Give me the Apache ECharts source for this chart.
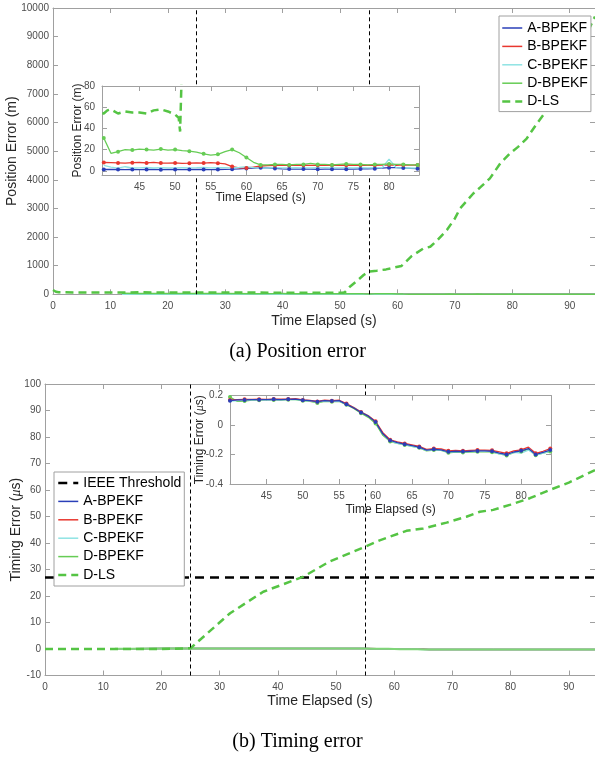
<!DOCTYPE html>
<html>
<head>
<meta charset="utf-8">
<script src="https://cdn.jsdelivr.net/npm/echarts@6/dist/echarts.min.js"></script>
<style>
  html, body { margin: 0; padding: 0; background: #fff; }
  #chart { width: 595px; height: 757px; }
</style>
</head>
<body>
<div id="chart"></div>
<script>
// ---- tick labels
const mainXTicks = [0, 10, 20, 30, 40, 50, 60, 70, 80, 90]
const posYTicks = [0, 1000, 2000, 3000, 4000, 5000, 6000, 7000, 8000, 9000, 10000]
const timeYTicks = [-10, 0, 10, 20, 30, 40, 50, 60, 70, 80, 90, 100]
const insetXTicks = [45, 50, 55, 60, 65, 70, 75, 80]
const posInsetYTicks = [0, 20, 40, 60, 80]
const timeInsetYTicks = [-0.4, -0.2, 0, 0.2]
const eventTimes = [25, 55]
const ieeeThreshold = 27

// ---- (a) position error
const dlsPosT = [0, 0.5, 1, 5, 10, 15, 20, 25, 30, 35, 40, 40.5, 41, 42, 43, 44, 45, 46, 47, 48, 49, 50, 50.5, 50.7, 50.9,
  51.7, 53, 54.1, 55, 56.4, 58, 60.7, 62.5, 64.5, 65.7, 67, 68.6, 70, 70.9, 72, 73.2, 74.5, 76.1, 77.9, 79.6,
  81, 82.5, 84.3, 86, 88, 90, 92, 94.4]
const dlsPos = [150, 90, 70, 65, 62, 68, 66, 63, 64, 60, 54, 57, 58, 54, 56, 55, 55, 54, 57, 58, 56, 53, 50, 37, 85,
  265, 480, 673, 790, 825, 870, 990, 1340, 1600, 1660, 1900, 2245, 2650, 3000, 3250, 3520, 3750, 4050, 4570, 4920,
  5150, 5440, 5970, 6430, 7150, 7900, 8700, 9700]

const posEarlyT = [12, 15, 20, 25, 30, 35, 39]
const posA_early = [2.5, 1.8, 1.5, 1.4, 1.3, 1.2, 1.2]
const posB_early = [9, 8.5, 8, 8, 7.8, 7.8, 7.7]
const posC_early = [6, 4, 3.5, 3.2, 3, 3, 3.5]
const posD_early = [40, 30, 26, 25, 24, 23, 28]

const insetT = [40, 41, 42, 43, 44, 45, 46, 47, 48, 49, 50, 51, 52, 53, 54, 55, 56, 57, 58, 59,
  60, 61, 62, 63, 64, 65, 66, 67, 68, 69, 70, 71, 72, 73, 74, 75, 76, 77, 78, 79, 80, 81, 82, 83, 84]
const posA = [1.2, 1.3, 1.2, 1.0, 1.3, 1.1, 1.2, 1.3, 1.0, 1.2, 1.3, 1.1, 1.2, 1.3, 1.2, 1.1, 1.2, 1.3, 1.5, 1.8,
  2.2, 2.5, 2.9, 2.8, 2.2, 1.8, 1.6, 1.5, 1.6, 1.5, 1.4, 1.5, 1.5, 1.6, 1.5, 1.6, 1.7, 1.8, 2.0, 2.4, 2.9, 3.0, 2.6, 2.2, 2.0]
const posB = [7.8, 7.6, 7.4, 7.2, 7.6, 7.8, 7.4, 7.9, 7.3, 7.2, 7.4, 7.0, 7.2, 7.5, 7.3, 7.6, 7.2, 6.5, 4.0, 2.8,
  2.5, 3.5, 4.5, 4.8, 5.0, 5.1, 5.0, 5.2, 5.3, 5.0, 5.2, 5.4, 5.1, 5.3, 5.2, 5.3, 5.2, 5.4, 5.1, 5.3, 5.6, 5.2, 5.5, 5.3, 5.4]
const posC = [5.0, 3.5, 2.5, 3.8, 2.6, 2.8, 3.2, 2.6, 3.0, 2.8, 2.7, 3.0, 2.8, 2.9, 3.1, 2.8, 3.0, 2.9, 2.7, 3.2,
  4.0, 3.0, 2.6, 2.8, 2.9, 2.7, 2.8, 3.0, 2.8, 2.6, 2.9, 3.0, 2.8, 2.7, 2.9, 2.8, 3.0, 2.8, 2.9, 2.7, 11.0, 3.0, 2.6, 2.8, 2.5]
const posD = [31, 16.5, 18, 20, 19.5, 20.5, 20, 19.5, 20.5, 19.5, 20, 19, 18.5, 17.5, 16, 14.8, 15.5, 18, 20, 17,
  12.5, 8, 5.5, 5.5, 6, 6, 5.5, 6, 6, 7, 6, 6, 5.5, 6, 6.5, 6, 6, 5.5, 6, 6, 6.5, 6, 6, 5.5, 5.5]

const posLateT = [86, 88, 90, 92, 94.4]
const posA_late = [1.8, 1.6, 1.5, 1.6, 1.5]
const posB_late = [5.3, 5.4, 5.2, 5.3, 5.2]
const posC_late = [2.7, 2.8, 2.6, 2.8, 2.7]
const posD_late = [5.8, 6, 5.7, 6, 5.8]

// ---- (b) timing error
const dlsTimeT = [0, 10, 20, 25, 31.8, 37.5, 44.4, 48.9, 54.8, 57.5, 62.1, 65, 69, 72.4, 74.7, 77, 80, 83.3, 86.7, 90, 94.5]
const dlsTime = [0, 0, 0, 0.3, 13.5, 21.6, 27.3, 33, 38.4, 41, 44.6, 45.5, 47.7, 49.9, 51.8, 52.5, 54.5, 56.9, 60, 62.8, 67.5]

const timeEarlyT = [12, 15, 20, 25, 30, 35, 39]
const timeA_early = [0.10, 0.13, 0.15, 0.16, 0.165, 0.168, 0.166]
const timeB_early = [0.10, 0.135, 0.155, 0.165, 0.17, 0.172, 0.170]
const timeC_early = [0.09, 0.125, 0.148, 0.158, 0.162, 0.165, 0.162]
const timeD_early = [0.11, 0.14, 0.16, 0.17, 0.175, 0.18, 0.185]

const timeA = [0.165, 0.170, 0.170, 0.172, 0.172, 0.172, 0.174, 0.172, 0.174, 0.176, 0.168, 0.165, 0.158, 0.165, 0.162,
  0.165, 0.140, 0.115, 0.085, 0.060, 0.020, -0.060, -0.105, -0.120, -0.130, -0.140, -0.150, -0.170, -0.165, -0.168,
  -0.182, -0.178, -0.180, -0.178, -0.176, -0.175, -0.178, -0.190, -0.200, -0.183, -0.175, -0.160, -0.200, -0.185, -0.170]
const timeB = [0.170, 0.172, 0.174, 0.174, 0.175, 0.174, 0.176, 0.175, 0.176, 0.178, 0.170, 0.166, 0.160, 0.168, 0.165,
  0.168, 0.145, 0.118, 0.088, 0.062, 0.025, -0.052, -0.100, -0.115, -0.125, -0.135, -0.145, -0.165, -0.160, -0.162,
  -0.175, -0.172, -0.175, -0.172, -0.170, -0.170, -0.172, -0.182, -0.192, -0.176, -0.168, -0.150, -0.192, -0.178, -0.160]
const timeC = [0.160, 0.165, 0.168, 0.170, 0.170, 0.170, 0.172, 0.170, 0.172, 0.174, 0.166, 0.162, 0.156, 0.163, 0.160,
  0.162, 0.142, 0.120, 0.090, 0.064, 0.022, -0.058, -0.108, -0.125, -0.133, -0.145, -0.155, -0.172, -0.168, -0.170,
  -0.185, -0.180, -0.182, -0.180, -0.178, -0.177, -0.180, -0.195, -0.205, -0.186, -0.190, -0.170, -0.205, -0.190, -0.178]
const timeD = [0.190, 0.160, 0.162, 0.168, 0.168, 0.170, 0.170, 0.168, 0.172, 0.172, 0.164, 0.160, 0.150, 0.160, 0.158,
  0.160, 0.138, 0.112, 0.080, 0.052, 0.010, -0.070, -0.112, -0.125, -0.135, -0.145, -0.155, -0.175, -0.170, -0.172,
  -0.188, -0.184, -0.186, -0.184, -0.182, -0.180, -0.184, -0.196, -0.206, -0.188, -0.180, -0.165, -0.205, -0.190, -0.180]

const timeLateT = [86, 88, 90, 92, 94.5]
const timeA_late = [-0.18, -0.19, -0.2, -0.19, -0.18]
const timeB_late = [-0.172, -0.182, -0.192, -0.182, -0.172]
const timeC_late = [-0.185, -0.195, -0.205, -0.195, -0.185]
const timeD_late = [-0.186, -0.196, -0.206, -0.196, -0.186]

// ---- styles
const font = '"Liberation Sans", Arial, sans-serif'
const axisGray = '#a0a0a0'
const blue = '#2a3fb8', red = '#e8372f', cyan = '#8fe3e3', green = '#66cc55', lsGreen = '#55c444'

function axis(gridIndex, position, min, max, ticks, extra) {
  const mirror = position === 'top' || position === 'right'
  return Object.assign({
    type: 'value', gridIndex, position, min, max,
    axisLine: { show: true, onZero: false, lineStyle: { color: axisGray, width: 1 } },
    axisTick: { show: true, inside: true, length: 5, customValues: ticks, lineStyle: { color: axisGray } },
    axisLabel: { show: !mirror, customValues: ticks, fontSize: 10, color: '#4d4d4d', fontFamily: font,
      margin: position === 'left' && gridIndex % 2 === 0 ? 4 : 7, formatter: v => String(v) },
    splitLine: { show: false }
  }, extra || {})
}

function axisName(text, gap, size) {
  return { name: text, nameLocation: 'middle', nameGap: gap, nameMoveOverlap: false,
    nameTextStyle: { fontSize: size, color: '#262626', fontFamily: font,
      rich: { it: { fontStyle: 'italic', fontFamily: '"Liberation Serif", serif', fontSize: size, color: '#262626' } } } }
}

function zip(t, v) { return t.map((x, i) => [x, v[i]]) }

function line(name, idx, data, color, width, extra) {
  return Object.assign({
    type: 'line', name, xAxisIndex: idx, yAxisIndex: idx, data,
    symbol: 'none', silent: true, animation: false,
    lineStyle: { color, width }, itemStyle: { color }
  }, extra || {})
}

const dots = { symbol: (v, p) => (p.dataIndex % 2 === 0 ? 'circle' : 'none'), symbolSize: 4, showSymbol: true, showAllSymbol: true }
const inset = { z: 12 }
const dash = { type: [8, 5] }
const eventLines = {
  silent: true, symbol: ['none', 'none'], label: { show: false },
  lineStyle: { color: '#000', type: [4, 3], width: 1 },
  data: eventTimes.map(t => ({ xAxis: t }))
}

const legendBase = {
  orient: 'vertical', selectedMode: false, itemWidth: 20, itemHeight: 14, itemGap: 4.4,
  backgroundColor: '#fff', borderColor: '#a0a0a0', borderWidth: 1, z: 20,
  itemStyle: { opacity: 0 },
  lineStyle: { width: 'inherit' },
  textStyle: { fontSize: 14, color: '#000', fontFamily: font }
}

const gridBase = { outerBoundsMode: 'none', containLabel: false }

const chart = echarts.init(document.getElementById('chart'))
chart.setOption({
  animation: false,
  grid: [
    Object.assign({ left: 53, top: 8, width: 542, height: 286.3 }, gridBase),
    Object.assign({ left: 102, top: 86, width: 317, height: 89, show: true, backgroundColor: '#fff', borderWidth: 0, z: 10 }, gridBase),
    Object.assign({ left: 45, top: 384, width: 550, height: 291.5 }, gridBase),
    Object.assign({ left: 230, top: 395.5, width: 321, height: 88.5, show: true, backgroundColor: '#fff', borderWidth: 0, z: 10 }, gridBase)
  ],
  xAxis: [
    axis(0, 'bottom', 0, 94.4, mainXTicks, axisName('Time Elapsed (s)', 20, 14)),
    axis(0, 'top', 0, 94.4, mainXTicks),
    axis(1, 'bottom', 39.75, 84.2, insetXTicks, Object.assign({ z: 11 }, axisName('Time Elapsed (s)', 17, 12))),
    axis(1, 'top', 39.75, 84.2, insetXTicks, { z: 11 }),
    axis(2, 'bottom', 0, 94.5, mainXTicks, axisName('Time Elapsed (s)', 19, 14)),
    axis(2, 'top', 0, 94.5, mainXTicks),
    axis(3, 'bottom', 40, 84.1, insetXTicks, Object.assign({ z: 11 }, axisName('Time Elapsed (s)', 20, 12))),
    axis(3, 'top', 40, 84.1, insetXTicks, { z: 11 })
  ],
  yAxis: [
    axis(0, 'left', 0, 10000, posYTicks, axisName('Position Error (m)', 34, 14)),
    axis(0, 'right', 0, 10000, posYTicks),
    axis(1, 'left', -4, 80, posInsetYTicks, Object.assign({ z: 11 }, axisName('Position Error (m)', 18, 12))),
    axis(1, 'right', -4, 80, posInsetYTicks, { z: 11 }),
    axis(2, 'left', -10, 100, timeYTicks, axisName('Timing Error ({it|μ}s)', 22, 14)),
    axis(2, 'right', -10, 100, timeYTicks),
    axis(3, 'left', -0.4, 0.2, timeInsetYTicks, Object.assign({ z: 11 }, axisName('Timing Error ({it|μ}s)', 24, 12))),
    axis(3, 'right', -0.4, 0.2, timeInsetYTicks, { z: 11 })
  ],
  legend: [
    Object.assign({}, legendBase, { left: 499, top: 16, padding: [5, 3, 3, 2],
      data: ['A-BPEKF', 'B-BPEKF', 'C-BPEKF', 'D-BPEKF', 'D-LS'] }),
    Object.assign({}, legendBase, { left: 54, top: 472, padding: [4, 3, 4, 3],
      data: ['IEEE Threshold', 'A-BPEKF', 'B-BPEKF', 'C-BPEKF', 'D-BPEKF', 'D-LS'] })
  ],
  graphic: [
    { type: 'text', left: 'center', top: 342, style: { text: '(a) Position error', font: '20px "Liberation Serif", serif', fill: '#000' } },
    { type: 'text', left: 'center', top: 732, style: { text: '(b) Timing error', font: '20px "Liberation Serif", serif', fill: '#000' } }
  ],
  series: [
    // (a) main
    line('A-BPEKF', 0, zip(posEarlyT.concat(insetT, posLateT), posA_early.concat(posA, posA_late)), blue, 1.5),
    line('B-BPEKF', 0, zip(posEarlyT.concat(insetT, posLateT), posB_early.concat(posB, posB_late)), red, 1.5),
    line('C-BPEKF', 0, zip(posEarlyT.concat(insetT, posLateT), posC_early.concat(posC, posC_late)), cyan, 1.5),
    line('D-BPEKF', 0, zip(posEarlyT.concat(insetT, posLateT), posD_early.concat(posD, posD_late)), green, 1.5),
    line('D-LS', 0, zip(dlsPosT, dlsPos), lsGreen, 2.5, { lineStyle: Object.assign({ color: lsGreen, width: 2.5 }, dash), markLine: eventLines }),
    // (a) inset
    line('a-inset-A', 2, zip(insetT, posA), blue, 1.3, Object.assign({}, dots, inset)),
    line('a-inset-B', 2, zip(insetT, posB), red, 1.3, Object.assign({}, dots, inset)),
    line('a-inset-C', 2, zip(insetT, posC), cyan, 1.3, inset),
    line('a-inset-D', 2, zip(insetT, posD), green, 1.3, Object.assign({}, dots, inset)),
    line('a-inset-LS', 2, zip(dlsPosT, dlsPos), lsGreen, 2.5, Object.assign({ lineStyle: Object.assign({ color: lsGreen, width: 2.5 }, dash) }, inset)),
    // (b) main
    line('IEEE Threshold', 4, [[0, ieeeThreshold], [94.5, ieeeThreshold]], '#000', 2.5, { lineStyle: { color: '#000', width: 2.5, type: [9, 6] } }),
    line('A-BPEKF', 4, zip(timeEarlyT.concat(insetT, timeLateT), timeA_early.concat(timeA, timeA_late)), blue, 1.5),
    line('B-BPEKF', 4, zip(timeEarlyT.concat(insetT, timeLateT), timeB_early.concat(timeB, timeB_late)), red, 1.5),
    line('C-BPEKF', 4, zip(timeEarlyT.concat(insetT, timeLateT), timeC_early.concat(timeC, timeC_late)), cyan, 1.5),
    line('D-BPEKF', 4, zip(timeEarlyT.concat(insetT, timeLateT), timeD_early.concat(timeD, timeD_late)), '#7fd677', 2),
    line('D-LS', 4, zip(dlsTimeT, dlsTime), lsGreen, 2.5, { lineStyle: Object.assign({ color: lsGreen, width: 2.5 }, dash), markLine: eventLines }),
    // (b) inset
    line('b-inset-D', 6, zip(insetT, timeD), green, 1.3, Object.assign({}, dots, inset)),
    line('b-inset-C', 6, zip(insetT, timeC), cyan, 1.3, inset),
    line('b-inset-B', 6, zip(insetT, timeB), red, 1.3, Object.assign({}, dots, inset)),
    line('b-inset-A', 6, zip(insetT, timeA), blue, 1.3, Object.assign({}, dots, inset))
  ]
})
</script>
</body>
</html>
